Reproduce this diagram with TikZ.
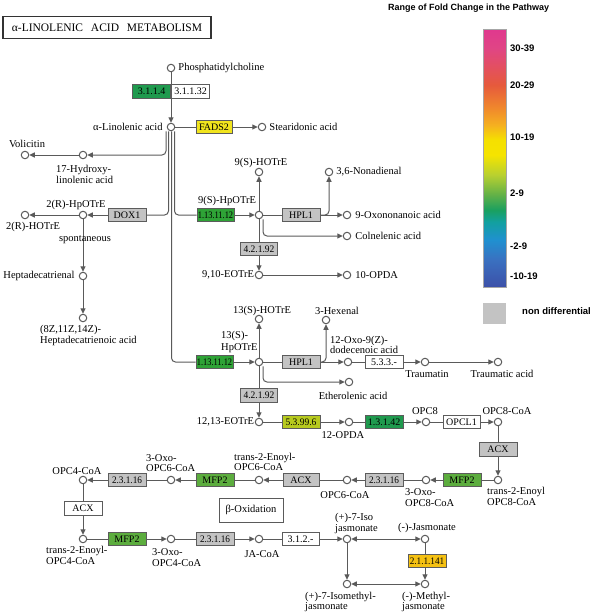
\documentclass[tikz,border=0pt]{standalone}
\usepackage{graphicx}
\usepackage{fontspec}
\setmainfont{Liberation Serif}
\newfontfamily\legendfont{Liberation Sans}
\usetikzlibrary{arrows.meta,positioning,backgrounds}

\definecolor{linegray}{HTML}{5A5A5A}
\definecolor{boxedge}{HTML}{5C5C5C}
\definecolor{ecgray}{HTML}{C3C3C3}
\definecolor{dkgreen}{HTML}{1F9A4E}
\definecolor{brgreen}{HTML}{2EA336}
\definecolor{ltgreen}{HTML}{5CAD3E}
\definecolor{ygreen}{HTML}{B7CA1E}
\definecolor{fadsyellow}{HTML}{F1E41E}
\definecolor{jmtorange}{HTML}{F5C112}
\definecolor{fc1}{HTML}{3C50A8}
\definecolor{fc2}{HTML}{3A70C0}
\definecolor{fc3}{HTML}{2090D0}
\definecolor{fc4}{HTML}{12A0A0}
\definecolor{fc5}{HTML}{1AA060}
\definecolor{fc6}{HTML}{60B048}
\definecolor{fc7}{HTML}{B8D030}
\definecolor{fc8}{HTML}{F5E400}
\definecolor{fc9}{HTML}{F5E000}
\definecolor{fc10}{HTML}{F5B020}
\definecolor{fc11}{HTML}{F0882C}
\definecolor{fc12}{HTML}{E65A3C}
\definecolor{fc13}{HTML}{E04585}
\definecolor{fc14}{HTML}{E0388E}

\pgfdeclareverticalshading{foldbar}{100bp}{color(0bp)=(fc1); color(25bp)=(fc1);
  color(30.2bp)=(fc2); color(34.1bp)=(fc3); color(37.6bp)=(fc4); color(39.9bp)=(fc5);
  color(42.8bp)=(fc6); color(46.7bp)=(fc7); color(50.6bp)=(fc8); color(53.5bp)=(fc9);
  color(56.4bp)=(fc10); color(59.7bp)=(fc11); color(64.1bp)=(fc12); color(71.3bp)=(fc13);
  color(75bp)=(fc14); color(100bp)=(fc14)}

\newcommand{\narrowec}[2][0.84]{\scalebox{#1}[1]{#2}}

\begin{document}
\begin{tikzpicture}[x=1pt, y=-1pt,
  cpd/.style={circle, draw=linegray, fill=white, line width=1pt,
    inner sep=0pt, minimum size=7.5pt},
  ec/.style={rectangle, draw=boxedge, line width=0.8pt, fill=#1,
    minimum width=38pt, minimum height=13.5pt, inner sep=0pt,
    font=\fontsize{10}{10}\selectfont},
  ec/.default=white,
  lbl/.style={inner sep=0pt, align=left, font=\fontsize{10.5}{10.5}\selectfont},
  leg/.style={inner sep=0pt, font=\legendfont\bfseries\fontsize{9.5}{10}\selectfont},
  rxn/.style={draw=linegray, line width=1pt},
  arrow/.style={rxn, -{Triangle[length=5.5pt,width=5pt]}},
  both/.style={rxn, {Triangle[length=5.5pt,width=5pt]}-{Triangle[length=5.5pt,width=5pt]}},
  branch/.style={arrow, rounded corners=4pt}]
  \useasboundingbox (0,0) rectangle (600,613);

  % title and legend
  \node[draw=black!80, line width=1.8pt, minimum width=208pt, minimum height=22pt,
    inner sep=0pt, font=\fontsize{11.5}{12}\selectfont] (title) at (107,27.5)
    {α-LINOLENIC\hspace{5pt} ACID\hspace{5pt} METABOLISM};
  \node[leg, anchor=west, font=\legendfont\bfseries\fontsize{9}{10}\selectfont]
    (legTitle) at (388,8) {Range of Fold Change in the Pathway};
  \shade[shading=foldbar, draw=gray!70, line width=0.4pt] (483,29) rectangle (506,287);
  \foreach \val/\yy [count=\i] in {30-39/48, 20-29/85, 10-19/137, 2-9/193, -2-9/246, -10-19/276}
    \node[leg, anchor=west] (leg\i) at (510,\yy) {\val};
  \fill[ecgray] (483,303) rectangle (506,324);
  \node[leg, anchor=west] (legNon) at (522,311) {non differential};

  % compounds
  \node[cpd] (pc) at (171,68) {};
  \node[cpd] (aLin) at (171,127) {};
  \node[cpd] (stear) at (262,127) {};
  \node[cpd] (hyd) at (83,155) {};
  \node[cpd] (voli) at (25,155) {};
  \node[cpd] (hp2R) at (83,215) {};
  \node[cpd] (ho2R) at (25,215) {};
  \node[cpd] (hepta) at (83,276) {};
  \node[cpd] (hepAc) at (83,318) {};
  \node[cpd] (hp9S) at (259,215) {};
  \node[cpd] (ho9S) at (259,172) {};
  \node[cpd] (nonad) at (329,172) {};
  \node[cpd] (oxo9) at (347,215) {};
  \node[cpd] (coln) at (347,236) {};
  \node[cpd] (eot9) at (259,275) {};
  \node[cpd] (opda10) at (347,275) {};
  \node[cpd] (hp13S) at (259,362) {};
  \node[cpd] (ho13S) at (259,319) {};
  \node[cpd] (hexen) at (326,320) {};
  \node[cpd] (oxo12) at (348,362) {};
  \node[cpd] (traum) at (425,362) {};
  \node[cpd] (traumAc) at (498,362) {};
  \node[cpd] (ether) at (349,382) {};
  \node[cpd] (eot13) at (259,422) {};
  \node[cpd] (opda12) at (349,422) {};
  \node[cpd] (opc8) at (426,422) {};
  \node[cpd] (opc8c) at (498,422) {};
  \node[cpd] (en8) at (498,480) {};
  \node[cpd] (oxo8) at (426,480) {};
  \node[cpd] (opc6) at (347,480) {};
  \node[cpd] (en6) at (259,480) {};
  \node[cpd] (oxo6) at (171,480) {};
  \node[cpd] (opc4) at (83,480) {};
  \node[cpd] (en4) at (83,539) {};
  \node[cpd] (oxo4) at (171,539) {};
  \node[cpd] (jacoa) at (259,539) {};
  \node[cpd] (isoJA) at (347,539) {};
  \node[cpd] (ja) at (425,539) {};
  \node[cpd] (isoMe) at (347,584) {};
  \node[cpd] (meJA) at (425,584) {};

  % compound labels
  \node[lbl, right=3pt of pc] (tPC) {Phosphatidylcholine};
  \node[lbl, left=4pt of aLin] (tLin) {α-Linolenic acid};
  \node[lbl, right=3pt of stear] (tStear) {Stearidonic acid};
  \node[lbl] (tVoli) at (27,144) {Volicitin};
  \node[lbl, anchor=west] (tHyd) at (56,174.5) {17-Hydroxy-\\linolenic acid};
  \node[lbl] (tHp2R) at (76,205) {2(R)-HpOTrE};
  \node[lbl] (tHo2R) at (33,227) {2(R)-HOTrE};
  \node[lbl] (tSpont) at (85,240) {spontaneous};
  \node[lbl, left=4pt of hepta] (tHepta) {Heptadecatrienal};
  \node[lbl, anchor=west] (tHepAc) at (40,335.5) {(8Z,11Z,14Z)-\\Heptadecatrienoic acid};
  \node[lbl] (tHp9S) at (227,201) {9(S)-HpOTrE};
  \node[lbl] (tHo9S) at (261,163) {9(S)-HOTrE};
  \node[lbl, right=3pt of nonad] (tNonad) {3,6-Nonadienal};
  \node[lbl, right=4pt of oxo9] (tOxo9) {9-Oxononanoic acid};
  \node[lbl, right=4pt of coln] (tColn) {Colnelenic acid};
  \node[lbl, left=0.5pt of eot9] (tEot9) {9,10-EOTrE};
  \node[lbl, right=4pt of opda10] (tOpda10) {10-OPDA};
  \node[lbl] (tHo13S) at (262,311) {13(S)-HOTrE};
  \node[lbl] (tHexen) at (337,311) {3-Hexenal};
  \node[lbl, anchor=west] (tHp13S) at (221,342) {13(S)-\\[2pt]HpOTrE};
  \node[lbl, anchor=west] (tOxo12) at (330,345) {12-Oxo-9(Z)-\\dodecenoic\ acid};
  \node[lbl] (tTraum) at (427,374) {Traumatin};
  \node[lbl] (tTraumAc) at (502,374) {Traumatic acid};
  \node[lbl] (tEther) at (353,396) {Etherolenic acid};
  \node[lbl, left=0.5pt of eot13] (tEot13) {12,13-EOTrE};
  \node[lbl] (tOpda12) at (343,435) {12-OPDA};
  \node[lbl] (tOpc8) at (425,411) {OPC8};
  \node[lbl] (tOpc8c) at (507,411) {OPC8-CoA};
  \node[lbl, anchor=west] (tEn8) at (487,496.5) {trans-2-Enoyl\\OPC8-CoA};
  \node[lbl, anchor=west] (tOxo8) at (405,497.5) {3-Oxo-\\OPC8-CoA};
  \node[lbl] (tOpc6) at (345,495) {OPC6-CoA};
  \node[lbl, anchor=west] (tEn6) at (234,462) {trans-2-Enoyl-\\OPC6-CoA};
  \node[lbl, anchor=west] (tOxo6) at (146,463) {3-Oxo-\\OPC6-CoA};
  \node[lbl] (tOpc4) at (77,471) {OPC4-CoA};
  \node[lbl, anchor=west] (tEn4) at (46,555.5) {trans-2-Enoyl-\\OPC4-CoA};
  \node[lbl, anchor=west] (tOxo4) at (152,557.5) {3-Oxo-\\OPC4-CoA};
  \node[lbl] (tJacoa) at (262,554) {JA-CoA};
  \node[lbl, anchor=west] (tIsoJA) at (335,523.5) {(+)-7-Iso\\jasmonate};
  \node[lbl] (tJA) at (427,528) {(-)-Jasmonate};
  \node[lbl, anchor=west] (tIsoMe) at (305,602) {(+)-7-Isomethyl-\\jasmonate};
  \node[lbl, anchor=west] (tMeJA) at (402,602) {(-)-Methyl-\\jasmonate};

  % enzymes
  \node[ec=dkgreen] (e3114) at (151.5,91.5) {3.1.1.4};
  \node[ec] (e31132) at (190.5,91.5) {3.1.1.32};
  \node[ec=fadsyellow, minimum width=36pt] (fads2) at (214,127) {FADS2};
  \node[ec=ecgray] (dox1) at (127,215) {DOX1};
  \node[ec=brgreen, minimum width=37pt] (lox9) at (215.5,215) {\narrowec{1.13.11.12}};
  \node[ec=ecgray] (hpl9) at (301,215) {HPL1};
  \node[ec=ecgray, minimum width=37pt] (aos9) at (259,249) {\narrowec[0.95]{4.2.1.92}};
  \node[ec=brgreen, minimum width=37pt] (lox13) at (214.5,362) {\narrowec{1.13.11.12}};
  \node[ec=ecgray] (hpl13) at (301,362) {HPL1};
  \node[ec] (e533) at (384,362) {5.3.3.-};
  \node[ec=ecgray, minimum width=37pt] (aos13) at (259,395.5) {\narrowec[0.95]{4.2.1.92}};
  \node[ec=ygreen] (aoc) at (301,422) {\narrowec[0.95]{5.3.99.6}};
  \node[ec=dkgreen] (opr) at (384,422) {1.3.1.42};
  \node[ec, minimum width=37pt] (opcl) at (461.5,422) {OPCL1};
  \node[ec=ecgray] (acx8) at (498,449.5) {ACX};
  \node[ec=ltgreen] (mfp8) at (462,480) {MFP2};
  \node[ec=ecgray] (kat8) at (384,480) {\narrowec[0.92]{2.3.1.16}};
  \node[ec=ecgray, minimum width=36pt] (acx6) at (301,480) {ACX};
  \node[ec=ltgreen] (mfp6) at (215,480) {MFP2};
  \node[ec=ecgray] (kat6) at (127,480) {\narrowec[0.92]{2.3.1.16}};
  \node[ec] (acx4) at (83,508.5) {ACX};
  \node[ec=ltgreen] (mfp4) at (127,539) {MFP2};
  \node[ec=ecgray] (kat4) at (215,539) {\narrowec[0.92]{2.3.1.16}};
  \node[ec, minimum width=37pt] (e312) at (300.5,539) {3.1.2.-};
  \node[ec=jmtorange] (jmt) at (427,561) {\narrowec[0.92]{2.1.1.141}};
  \node[draw=linegray, line width=0.8pt, minimum width=64pt, minimum height=24pt,
    lbl] (betaOx) at (251,510) {β-Oxidation};

  % connectors
  \begin{scope}[on background layer]
    \draw[arrow] (pc) -- (aLin);
    \draw[arrow] (aLin) -- (stear);
    \draw[branch] ([xshift=-5pt]aLin.south) |- (hyd);
    \draw[arrow] (hyd) -- (voli);
    \draw[rxn, rounded corners=4pt] ([xshift=-2.5pt]aLin.south) |- (dox1);
    \draw[arrow] (dox1) -- (hp2R);
    \draw[arrow] (hp2R) -- (ho2R);
    \draw[arrow] (hp2R) -- (hepta);
    \draw[arrow] (hepta) -- (hepAc);
    \draw[rxn, rounded corners=4pt] ([xshift=3.5pt]aLin.south) |- (lox9);
    \draw[arrow] (lox9) -- (hp9S);
    \draw[arrow] (hp9S) -- (ho9S);
    \draw[rxn] (hp9S) -- (hpl9);
    \draw[arrow] (hpl9) -- (oxo9);
    \draw[branch] (hpl9.east) -| (nonad);
    \draw[branch] ([xshift=4pt]hp9S.south) |- (coln);
    \draw[arrow] (hp9S) -- (eot9);
    \draw[arrow] (eot9) -- (opda10);
    \draw[rxn, rounded corners=4pt] ([xshift=0.5pt]aLin.south) |- (lox13);
    \draw[arrow] (lox13) -- (hp13S);
    \draw[arrow] (hp13S) -- (ho13S);
    \draw[rxn] (hp13S) -- (hpl13);
    \draw[branch] (hpl13.east) -| (hexen);
    \draw[arrow] (hpl13) -- (oxo12);
    \draw[arrow] (oxo12) -- (traum);
    \draw[arrow] (traum) -- (traumAc);
    \draw[branch] ([xshift=4pt]hp13S.south) |- (ether);
    \draw[arrow] (hp13S) -- (eot13);
    \draw[arrow] (eot13) -- (opda12);
    \draw[arrow] (opda12) -- (opc8);
    \draw[arrow] (opc8) -- (opc8c);
    \draw[arrow] (opc8c) -- (en8);
    \draw[arrow] (en8) -- (oxo8);
    \draw[arrow] (oxo8) -- (opc6);
    \draw[arrow] (opc6) -- (en6);
    \draw[arrow] (en6) -- (oxo6);
    \draw[arrow] (oxo6) -- (opc4);
    \draw[arrow] (opc4) -- (en4);
    \draw[arrow] (en4) -- (oxo4);
    \draw[arrow] (oxo4) -- (jacoa);
    \draw[arrow] (jacoa) -- (isoJA);
    \draw[both] (isoJA) -- (ja);
    \draw[arrow] (ja) -- (meJA);
    \draw[arrow] (isoJA) -- (isoMe);
    \draw[both] (isoMe) -- (meJA);
  \end{scope}
\end{tikzpicture}
\end{document}
